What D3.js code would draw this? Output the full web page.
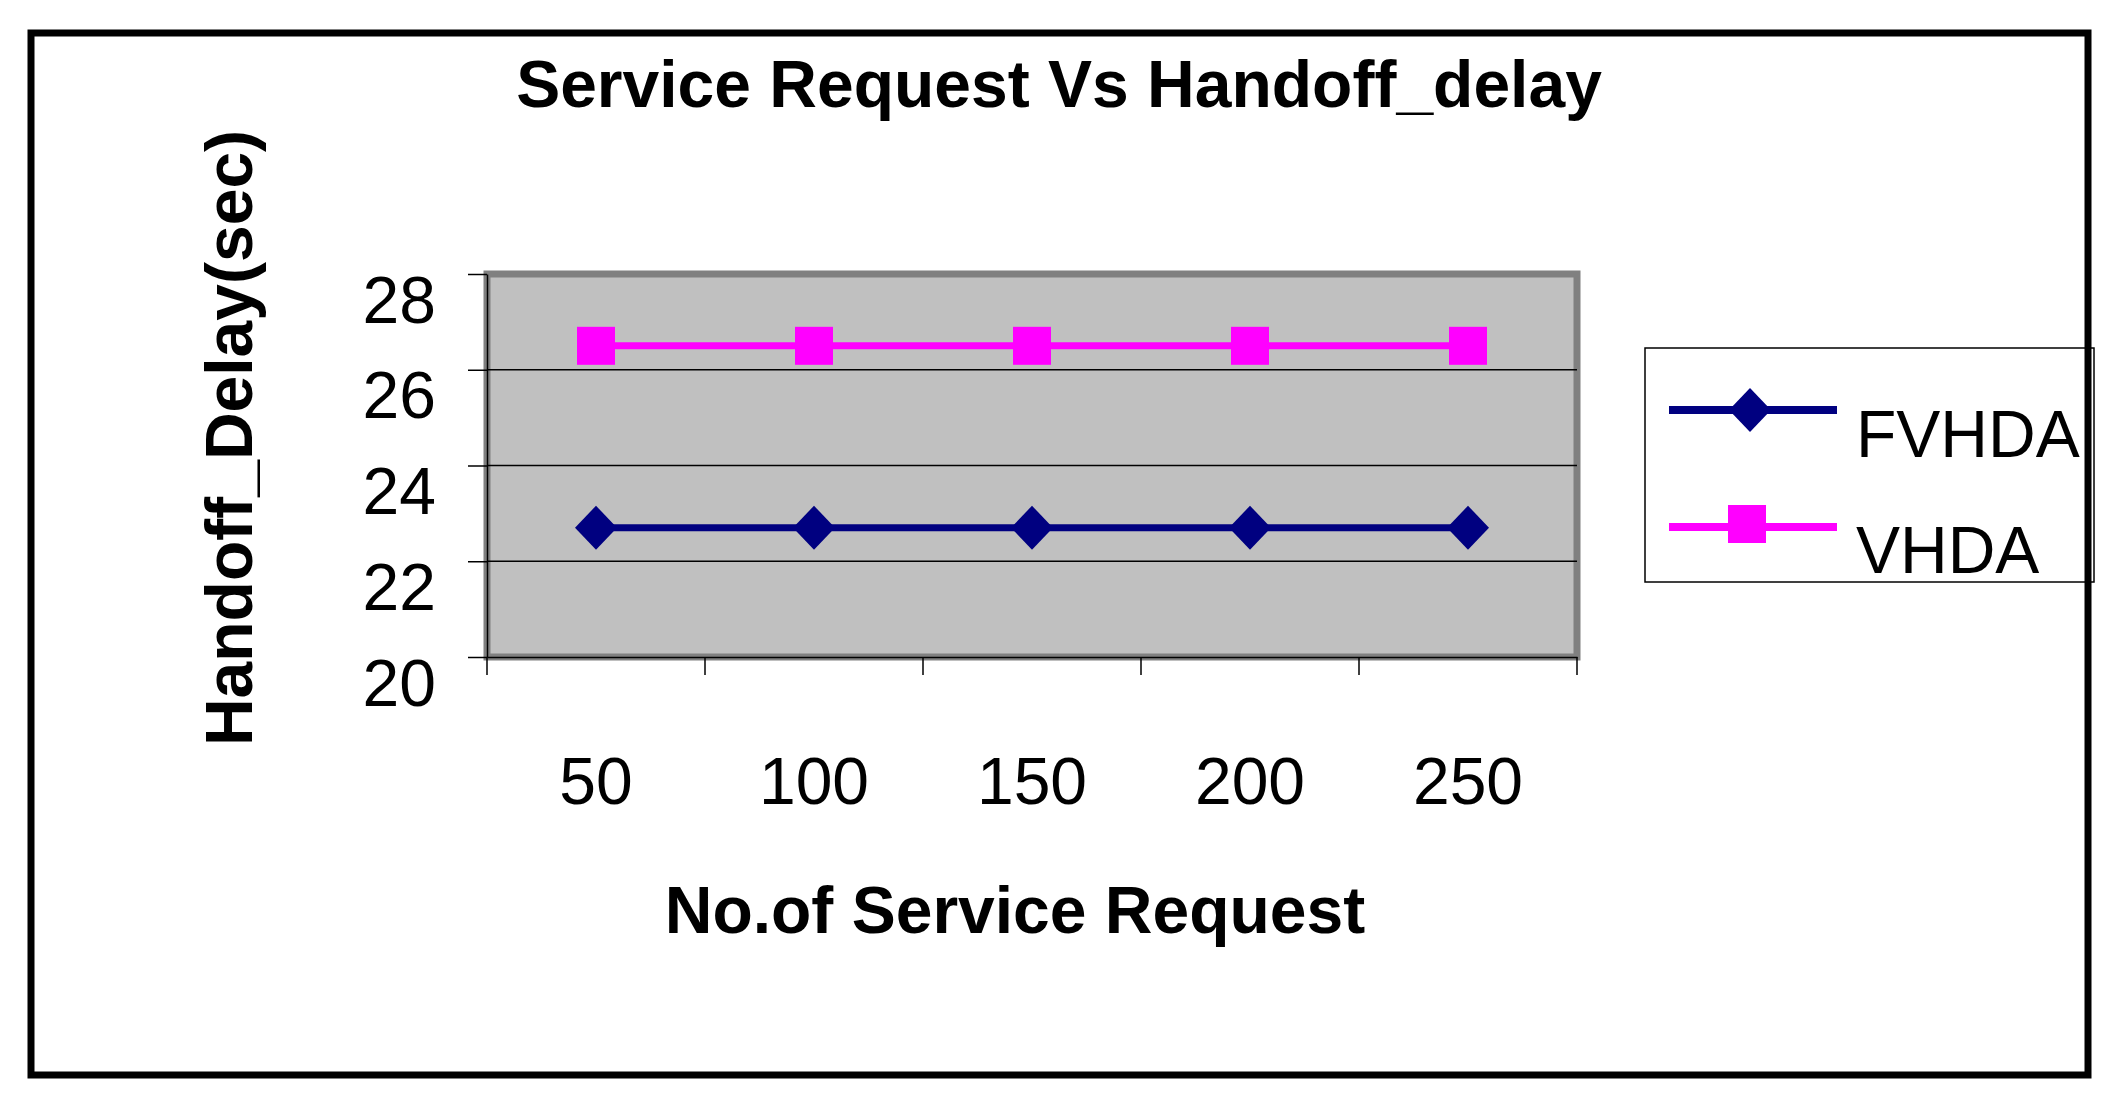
<!DOCTYPE html>
<html>
<head>
<meta charset="utf-8">
<script src="https://cdn.jsdelivr.net/npm/d3@7"></script>
<style>
  html, body { margin: 0; padding: 0; background: #fff; }
  svg { display: block; }
  text { font-family: "Liberation Sans", Arial, sans-serif; fill: #000; }
</style>
</head>
<body>
<script>
// ---- data ----
const categories = ["50", "100", "150", "200", "250"];
const fvhda = [22.7, 22.7, 22.7, 22.7, 22.7];
const vhda = [26.5, 26.5, 26.5, 26.5, 26.5];
const yTicks = [20, 22, 24, 26, 28];
const seriesNames = ["FVHDA", "VHDA"];
const titleText = "Service Request Vs Handoff_delay";
const xTitleText = "No.of Service Request";
const yTitleText = "Handoff_Delay(sec)";

const W = 2121, H = 1106;
const plot = { left: 487, right: 1577, top: 274, bottom: 657 };

const svg = d3.select("body").append("svg").attr("width", W).attr("height", H);

const x = d3.scaleBand().domain(categories).range([plot.left, plot.right]).padding(0);
const y = d3.scaleLinear().domain([20, 28]).range([plot.bottom, plot.top]);
const cx = c => x(c) + x.bandwidth() / 2;

// plot area
svg.append("rect")
  .attr("x", plot.left).attr("y", plot.top)
  .attr("width", plot.right - plot.left).attr("height", plot.bottom - plot.top)
  .attr("fill", "#C0C0C0").attr("stroke", "#808080").attr("stroke-width", 7);

// gridlines
svg.append("g").selectAll("line").data(yTicks.filter(t => t > 20 && t < 28)).join("line")
  .attr("x1", plot.left).attr("x2", plot.right)
  .attr("y1", d => y(d)).attr("y2", d => y(d))
  .attr("stroke", "#000").attr("stroke-width", 1.5);

// y axis
const yAxis = svg.append("g").attr("transform", `translate(${plot.left},0)`)
  .call(d3.axisLeft(y).tickValues(yTicks).tickSize(19).tickSizeOuter(0));
yAxis.select(".domain").attr("stroke", "#000").attr("stroke-width", 1.5);
yAxis.selectAll(".tick line").attr("stroke", "#000").attr("stroke-width", 1.5);
yAxis.selectAll(".tick text")
  .attr("x", -51).attr("dy", null).attr("y", 48)
  .attr("text-anchor", "end")
  .style("font-size", "66px").style("font-family", '"Liberation Sans", Arial, sans-serif')
  .attr("fill", "#000");

// x axis (labels at band centers)
const xAxis = svg.append("g").attr("transform", `translate(0,${plot.bottom})`)
  .call(d3.axisBottom(x).tickSize(0).tickSizeOuter(0));
xAxis.select(".domain").attr("stroke", "#000").attr("stroke-width", 1.5);
xAxis.selectAll(".tick text")
  .attr("y", 147).attr("dy", null)
  .style("font-size", "66px").style("font-family", '"Liberation Sans", Arial, sans-serif')
  .attr("fill", "#000");
// x tick marks at band boundaries
const edges = categories.map(c => x(c)).concat([x(categories[categories.length - 1]) + x.bandwidth()]);
svg.append("g").selectAll("line").data(edges).join("line")
  .attr("x1", d => d).attr("x2", d => d)
  .attr("y1", plot.bottom).attr("y2", plot.bottom + 18)
  .attr("stroke", "#000").attr("stroke-width", 1.5);

// series
const line = d3.line().x((d, i) => cx(categories[i])).y(d => y(d));
const diamond = "M0,-22L21,0L0,22L-21,0Z";

svg.append("path").datum(vhda).attr("d", line)
  .attr("fill", "none").attr("stroke", "#FF00FF").attr("stroke-width", 7);
svg.append("g").selectAll("rect").data(vhda).join("rect")
  .attr("x", (d, i) => cx(categories[i]) - 19).attr("y", d => y(d) - 19)
  .attr("width", 38).attr("height", 38).attr("fill", "#FF00FF");

svg.append("path").datum(fvhda).attr("d", line)
  .attr("fill", "none").attr("stroke", "#000080").attr("stroke-width", 7);
svg.append("g").selectAll("path").data(fvhda).join("path")
  .attr("d", diamond)
  .attr("transform", (d, i) => `translate(${cx(categories[i])},${y(d)})`)
  .attr("fill", "#000080");

// titles
svg.append("text").attr("x", 1059).attr("y", 107).attr("text-anchor", "middle")
  .style("font-size", "66px").style("font-weight", "bold").text(titleText);
svg.append("text").attr("x", 1015).attr("y", 933).attr("text-anchor", "middle")
  .style("font-size", "66px").style("font-weight", "bold").text(xTitleText);
svg.append("text").attr("transform", "translate(252,438) rotate(-90)").attr("text-anchor", "middle")
  .style("font-size", "66px").style("font-weight", "bold").text(yTitleText);

// legend
const lg = svg.append("g");
lg.append("rect").attr("x", 1645).attr("y", 348).attr("width", 449).attr("height", 234)
  .attr("fill", "#fff").attr("stroke", "#000").attr("stroke-width", 1.5);
const legendRows = [
  { name: seriesNames[0], color: "#000080", marker: "diamond", ly: 410, ty: 457 },
  { name: seriesNames[1], color: "#FF00FF", marker: "square", ly: 527, ty: 573 }
];
legendRows.forEach(r => {
  lg.append("line").attr("x1", 1669).attr("x2", 1837).attr("y1", r.ly).attr("y2", r.ly)
    .attr("stroke", r.color).attr("stroke-width", 8);
  if (r.marker === "diamond") {
    lg.append("path").attr("d", diamond).attr("transform", `translate(1750,${r.ly})`).attr("fill", r.color);
  } else {
    lg.append("rect").attr("x", 1747 - 19).attr("y", r.ly - 22).attr("width", 38).attr("height", 38).attr("fill", r.color);
  }
  lg.append("text").attr("x", 1856).attr("y", r.ty).style("font-size", "66px").text(r.name);
});

// outer border
svg.append("rect").attr("x", 31).attr("y", 33).attr("width", 2057).attr("height", 1042)
  .attr("fill", "none").attr("stroke", "#000").attr("stroke-width", 7);
</script>
</body>
</html>
